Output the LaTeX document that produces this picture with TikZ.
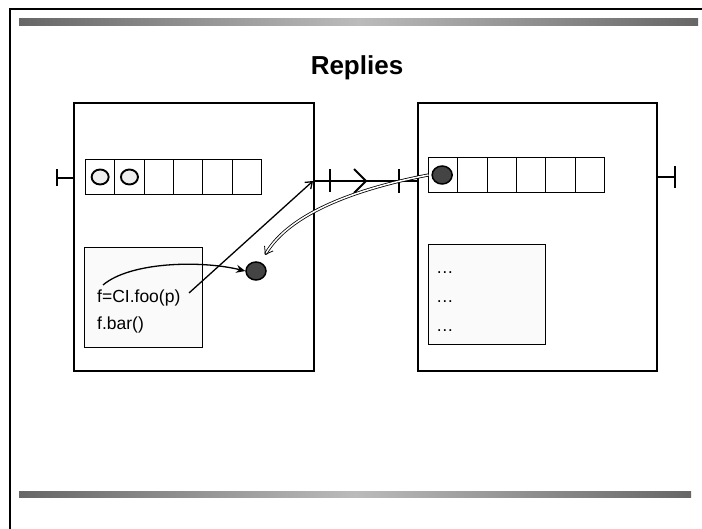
\documentclass[tikz,border=0pt]{standalone}
\usepackage{fontspec}
\setmainfont{Liberation Sans}
\usetikzlibrary{arrows.meta,shapes.geometric}
\definecolor{bardark}{HTML}{666666}
\definecolor{barlight}{HTML}{BBBBBB}
\definecolor{dotfill}{HTML}{444444}
\definecolor{slotfill}{HTML}{EEEEEE}
\definecolor{codefill}{HTML}{FAFAFA}
\tikzset{
  x=1pt, y=-1pt,
  frameline/.style={line width=2.6pt},
  objbox/.style={draw, line width=2.4pt, inner sep=0pt, anchor=north west},
  codebox/.style={draw, line width=0.7pt, fill=codefill, inner sep=0pt, anchor=north west},
  cell/.style={draw, line width=1pt, minimum width=29.3pt, minimum height=35pt, inner sep=0pt, anchor=north west},
  emptyslot/.style={ellipse, draw, line width=1.9pt, fill=slotfill, minimum width=17pt, minimum height=15pt, inner sep=0pt},
  fullslot/.style={ellipse, draw, line width=1.5pt, fill=dotfill, minimum width=20pt, minimum height=18pt, inner sep=0pt},
  codetext/.style={font=\fontsize{17.5}{20}\selectfont, anchor=base west, inner sep=0pt},
  wire/.style={line width=1.5pt},
  tee/.style={line width=1.9pt},
}
\begin{document}
\begin{tikzpicture}
\useasboundingbox (0,0) rectangle (702,529);
\fill[white] (0,0) rectangle (702,529);

% slide frame and decorative bars
\draw[frameline] (10,529) -- (10,9) -- (702,9);
\shade[left color=bardark, right color=bardark, middle color=barlight] (19,19) rectangle (698,26);
\shade[left color=bardark, right color=bardark, middle color=barlight] (19,491) rectangle (691,497);

\node[font=\bfseries\fontsize{26}{30}\selectfont, anchor=base] (title) at (357,75) {Replies};

% the two objects
\node[objbox, minimum width=240pt, minimum height=268pt] (objA) at (73,102) {};
\node[objbox, minimum width=239pt, minimum height=268pt] (objB) at (417,102) {};

% request queues
\foreach \i in {0,...,5} {
  \node[cell] (qa\i) at (85+29.3*\i,159) {};
  \node[cell] (qb\i) at (428+29.3*\i,157) {};
}
\node[emptyslot] (slotA0) at (qa0.center) {};
\node[emptyslot] (slotA1) at (qa1.center) {};
\node[fullslot] (slotB0) at ([xshift=-1pt]qb0.center) {};

% code panels
\node[codebox, minimum width=118pt, minimum height=100pt] (codeA) at (84,247) {};
\node[codebox, minimum width=117pt, minimum height=100pt] (codeB) at (428,244) {};
\node[codetext] (call) at (97,303) {f=CI.foo(p)};
\node[codetext] (use) at (97,330) {f.bar()};
\node[codetext] (dotsA) at (436,274) {\dots};
\node[codetext] (dotsB) at (436,303) {\dots};
\node[codetext] (dotsC) at (436,332) {\dots};

% future variable
\node[fullslot] (future) at (256,271) {};

% ports
\coordinate (portAl) at (objA.west |- 0,178);
\coordinate (portAr) at (313,181);
\coordinate (portBl) at (417,181);
\coordinate (portBr) at (objB.east |- 0,177);
\draw[tee] (portAl) -- ++(-16,0) coordinate (teeA);
\draw[tee] ([yshift=-8pt]teeA) -- ([yshift=9pt]teeA);
\draw[tee] (portBr) -- ++(17,0) coordinate (teeB);
\draw[tee] ([yshift=-11pt]teeB) -- ([yshift=11pt]teeB);

% message channel between the objects
\draw[wire] (portAr) -- (portBl);
\draw[tee] (330,169) -- (330,192);
\draw[tee] (399,169) -- (399,193);
\draw[tee] (354,169) -- (366,181) -- (354,193);

% invocation and reply
\coordinate (callEnd) at (189,293);
\coordinate (callStart) at (103,285);
\coordinate (replyEnd) at (265,255);
\draw[line width=1.3pt, -{Straight Barb[length=6pt,width=9pt]}] (callEnd) -- (portAr);
\draw[line width=1.3pt, -{Stealth[length=9pt,width=8pt]}] (callStart) .. controls (130,262) and (200,260) .. (future.west);
\draw[double, double distance=1.5pt, line width=0.8pt, -{Straight Barb[length=7pt,width=10pt]}]
  ([xshift=-3pt]slotB0.west) .. controls (360,188) and (290,212) .. (replyEnd);
\end{tikzpicture}
\end{document}
